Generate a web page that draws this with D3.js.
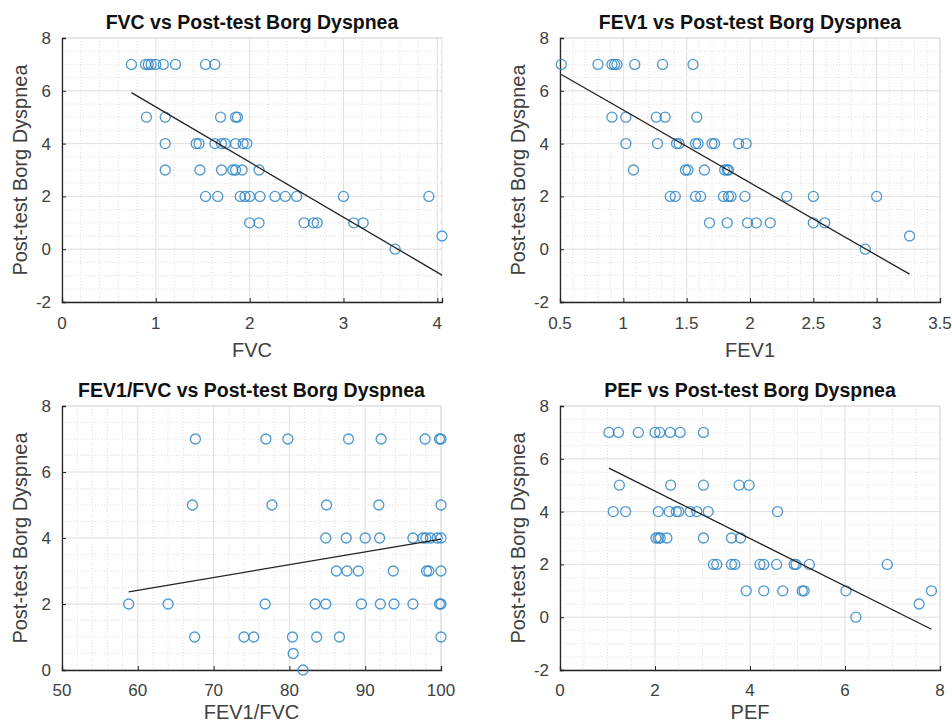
<!DOCTYPE html>
<html>
<head>
<meta charset="utf-8">
<script src="https://cdn.jsdelivr.net/npm/d3@7"></script>
<style>
  body { margin: 0; background: #ffffff; }
  text { font-family: "Liberation Sans", Arial, sans-serif; }
</style>
</head>
<body>
<div id="mainDiv"></div>
<script>

// values, one row of the comment per Borg level
var fvcX = [0.74, 0.89, 0.92, 0.95, 1.0, 1.08, 1.21, 1.53, 1.63,
            0.90, 1.10, 1.69, 1.85, 1.87,
            1.10, 1.43, 1.46, 1.63, 1.70, 1.74, 1.85, 1.93, 1.97,
            1.10, 1.47, 1.70, 1.82, 1.85, 1.92, 2.10,
            1.53, 1.66, 1.90, 1.95, 2.00, 2.11, 2.27, 2.38, 2.50, 3.00, 3.91,
            2.00, 2.10, 2.58, 2.68, 2.72, 3.11, 3.21,
            3.55, 4.05];
var fvcBorg = [7, 7, 7, 7, 7, 7, 7, 7, 7,
               5, 5, 5, 5, 5,
               4, 4, 4, 4, 4, 4, 4, 4, 4,
               3, 3, 3, 3, 3, 3, 3,
               2, 2, 2, 2, 2, 2, 2, 2, 2, 2, 2,
               1, 1, 1, 1, 1, 1, 1,
               0, 0.5];

var fev1X = [0.51, 0.80, 0.91, 0.93, 0.95, 1.09, 1.31, 1.55,
             0.91, 1.02, 1.26, 1.33, 1.58,
             1.02, 1.27, 1.42, 1.44, 1.57, 1.59, 1.70, 1.72, 1.91, 1.97,
             1.08, 1.49, 1.51, 1.64, 1.80, 1.82, 1.83,
             1.37, 1.41, 1.57, 1.61, 1.79, 1.83, 1.85, 1.96, 2.29, 2.50, 3.00,
             1.68, 1.82, 1.98, 2.05, 2.16, 2.50, 2.59,
             2.91, 3.26];
var fev1Borg = [7, 7, 7, 7, 7, 7, 7, 7,
                5, 5, 5, 5, 5,
                4, 4, 4, 4, 4, 4, 4, 4, 4, 4,
                3, 3, 3, 3, 3, 3, 3,
                2, 2, 2, 2, 2, 2, 2, 2, 2, 2, 2,
                1, 1, 1, 1, 1, 1, 1,
                0, 0.5];

var ratioX = [67.6, 76.9, 79.8, 87.8, 92.1, 97.9, 99.8, 100,
              67.2, 77.7, 84.9, 91.8, 100,
              84.8, 87.5, 90.0, 91.9, 96.3, 97.6, 98.0, 98.6, 99.5, 100,
              86.2, 87.6, 89.1, 93.7, 98.1, 98.4, 100,
              58.8, 64.0, 76.8, 83.4, 84.8, 89.5, 92.0, 93.8, 96.3, 99.8, 100,
              67.5, 74.0, 75.3, 80.4, 83.6, 86.6, 100,
              80.5, 81.8];
var ratioBorg = [7, 7, 7, 7, 7, 7, 7, 7,
                 5, 5, 5, 5, 5,
                 4, 4, 4, 4, 4, 4, 4, 4, 4, 4,
                 3, 3, 3, 3, 3, 3, 3,
                 2, 2, 2, 2, 2, 2, 2, 2, 2, 2, 2,
                 1, 1, 1, 1, 1, 1, 1,
                 0.5, 0];

var pefX = [1.03, 1.23, 1.65, 2.0, 2.10, 2.32, 2.53, 3.02,
            1.25, 2.33, 3.02, 3.77, 3.98,
            1.12, 1.38, 2.07, 2.30, 2.45, 2.50, 2.74, 2.88, 3.12, 4.58,
            2.02, 2.07, 2.11, 2.25, 3.02, 3.61, 3.80,
            3.23, 3.30, 3.61, 3.68, 4.21, 4.29, 4.56, 4.93, 4.97, 5.25, 6.89,
            3.92, 4.29, 4.69, 5.10, 5.14, 6.02, 7.82,
            7.56, 6.23];
var pefBorg = [7, 7, 7, 7, 7, 7, 7, 7,
               5, 5, 5, 5, 5,
               4, 4, 4, 4, 4, 4, 4, 4, 4, 4,
               3, 3, 3, 3, 3, 3, 3,
               2, 2, 2, 2, 2, 2, 2, 2, 2, 2, 2,
               1, 1, 1, 1, 1, 1, 1,
               0.5, 0];

// fitted line [slope, intercept]
var fvcFit = [-2.088, 7.475];
var fev1Fit = [-2.75, 8.02];
var ratioFit = [0.0387, 0.095];
var pefFit = [-0.899, 6.575];

var titles = ["FVC vs Post-test Borg Dyspnea", "FEV1 vs Post-test Borg Dyspnea",
              "FEV1/FVC vs Post-test Borg Dyspnea", "PEF vs Post-test Borg Dyspnea"];
var xLabels = ["FVC", "FEV1", "FEV1/FVC", "PEF"];
var yLabel = "Post-test Borg Dyspnea";

var fvcTicks = [0, 1, 2, 3, 4];
var fev1Ticks = [0.5, 1, 1.5, 2, 2.5, 3, 3.5];
var ratioTicks = [50, 60, 70, 80, 90, 100];
var pefTicks = [0, 2, 4, 6, 8];
var borgTicks = [-2, 0, 2, 4, 6, 8];
var borgTicksPos = [0, 2, 4, 6, 8];

var markerColor = "#2f86c8";
var axisColor = "#262626";
var tickTextColor = "#404040";

var svg = d3.select("#mainDiv").append("svg")
    .attr("width", 952).attr("height", 725).attr("id", "mainCanvas");

function minorTicks(domain, step){
    var out = [];
    var n = Math.round((domain[1] - domain[0]) / step);
    for (var i = 0; i <= n; i++) {
        out.push(+(domain[0] + i * step).toFixed(6));
    }
    return out;
}

function drawPanel(p){

    var x = d3.scaleLinear().domain(p.xDomain).range([p.left, p.right]);
    var y = d3.scaleLinear().domain(p.yDomain).range([p.bottom, p.top]);
    var g = svg.append("g");

    // minor grid, dotted
    g.selectAll(".xminor").data(minorTicks(p.xDomain, p.xMinor)).enter().append("line")
        .attr("x1", function(d){ return x(d); }).attr("x2", function(d){ return x(d); })
        .attr("y1", p.top).attr("y2", p.bottom)
        .attr("stroke", "#dedede").attr("stroke-width", 1).attr("stroke-dasharray", "1,2");
    g.selectAll(".yminor").data(minorTicks(p.yDomain, 0.5)).enter().append("line")
        .attr("x1", p.left).attr("x2", p.right)
        .attr("y1", function(d){ return y(d); }).attr("y2", function(d){ return y(d); })
        .attr("stroke", "#dedede").attr("stroke-width", 1).attr("stroke-dasharray", "1,2");

    // major grid
    g.selectAll(".xmajor").data(p.xTicks).enter().append("line")
        .attr("x1", function(d){ return x(d); }).attr("x2", function(d){ return x(d); })
        .attr("y1", p.top).attr("y2", p.bottom)
        .attr("stroke", "#e2e2e2").attr("stroke-width", 1);
    g.selectAll(".ymajor").data(p.yTicks).enter().append("line")
        .attr("x1", p.left).attr("x2", p.right)
        .attr("y1", function(d){ return y(d); }).attr("y2", function(d){ return y(d); })
        .attr("stroke", "#e2e2e2").attr("stroke-width", 1);

    // light top / right edges
    g.append("path")
        .attr("d", "M" + p.left + "," + p.top + "H" + p.right + "V" + p.bottom)
        .attr("fill", "none").attr("stroke", "#dcdcdc").attr("stroke-width", 1);

    // axes, ticks inward
    var xAxis = d3.axisTop(x).tickValues(p.xTicks).tickSize(4).tickFormat("");
    var yAxis = d3.axisRight(y).tickValues(p.yTicks).tickSize(4).tickFormat("");
    g.append("g").attr("transform", "translate(0," + p.bottom + ")").call(xAxis)
        .call(function(s){ s.selectAll("line, path").attr("stroke", axisColor); });
    g.append("g").attr("transform", "translate(" + p.left + ",0)").call(yAxis)
        .call(function(s){ s.selectAll("line, path").attr("stroke", axisColor); });
    g.selectAll(".domain").attr("stroke-width", 1.3);

    // tick labels
    g.selectAll(".xlab").data(p.xTicks).enter().append("text")
        .attr("x", function(d){ return x(d); }).attr("y", p.bottom + p.tickGap)
        .attr("text-anchor", "middle").attr("font-size", 17).attr("fill", tickTextColor)
        .text(function(d){ return d; });
    g.selectAll(".ylab").data(p.yTicks).enter().append("text")
        .attr("x", p.left - 11).attr("y", function(d){ return y(d) + 6; })
        .attr("text-anchor", "end").attr("font-size", 17).attr("fill", tickTextColor)
        .text(function(d){ return d; });

    // labels and title
    g.append("text").attr("x", (p.left + p.right) / 2).attr("y", p.bottom + p.labelGap)
        .attr("text-anchor", "middle").attr("font-size", 20).attr("fill", tickTextColor)
        .text(p.xLabel);
    g.append("text")
        .attr("transform", "translate(" + (p.left - 35) + "," + ((p.top + p.bottom) / 2) + ") rotate(-90)")
        .attr("text-anchor", "middle").attr("font-size", 20).attr("fill", tickTextColor)
        .text(yLabel);
    g.append("text").attr("x", (p.left + p.right) / 2).attr("y", p.top - 9)
        .attr("text-anchor", "middle").attr("font-size", 19.5).attr("font-weight", "bold")
        .attr("fill", "#111").text(p.title);

    // points
    g.selectAll(".pt").data(p.xs).enter().append("circle")
        .attr("cx", function(d){ return x(d); })
        .attr("cy", function(d, i){ return y(p.ys[i]); })
        .attr("r", 5).attr("fill", "none")
        .attr("stroke", markerColor).attr("stroke-width", 1.3).attr("stroke-opacity", 0.85);

    // fit line over the data range
    var ext = d3.extent(p.xs);
    g.append("line")
        .attr("x1", x(ext[0])).attr("y1", y(p.fit[0] * ext[0] + p.fit[1]))
        .attr("x2", x(ext[1])).attr("y2", y(p.fit[0] * ext[1] + p.fit[1]))
        .attr("stroke", "#222").attr("stroke-width", 1.3);
}

drawPanel({left: 62, right: 442, top: 38, bottom: 302, xDomain: [0, 4.05], yDomain: [-2, 8],
    xTicks: fvcTicks, yTicks: borgTicks, xMinor: 0.2, xs: fvcX, ys: fvcBorg, fit: fvcFit,
    title: titles[0], xLabel: xLabels[0], tickGap: 27, labelGap: 55});

drawPanel({left: 560, right: 940, top: 38, bottom: 302, xDomain: [0.5, 3.5], yDomain: [-2, 8],
    xTicks: fev1Ticks, yTicks: borgTicks, xMinor: 0.1, xs: fev1X, ys: fev1Borg, fit: fev1Fit,
    title: titles[1], xLabel: xLabels[1], tickGap: 27, labelGap: 55});

drawPanel({left: 62, right: 441, top: 406, bottom: 670, xDomain: [50, 100], yDomain: [0, 8],
    xTicks: ratioTicks, yTicks: borgTicksPos, xMinor: 2, xs: ratioX, ys: ratioBorg, fit: ratioFit,
    title: titles[2], xLabel: xLabels[2], tickGap: 26, labelGap: 49});

drawPanel({left: 560, right: 940, top: 406, bottom: 670, xDomain: [0, 8], yDomain: [-2, 8],
    xTicks: pefTicks, yTicks: borgTicks, xMinor: 0.5, xs: pefX, ys: pefBorg, fit: pefFit,
    title: titles[3], xLabel: xLabels[3], tickGap: 26, labelGap: 49});

</script>
</body>
</html>
